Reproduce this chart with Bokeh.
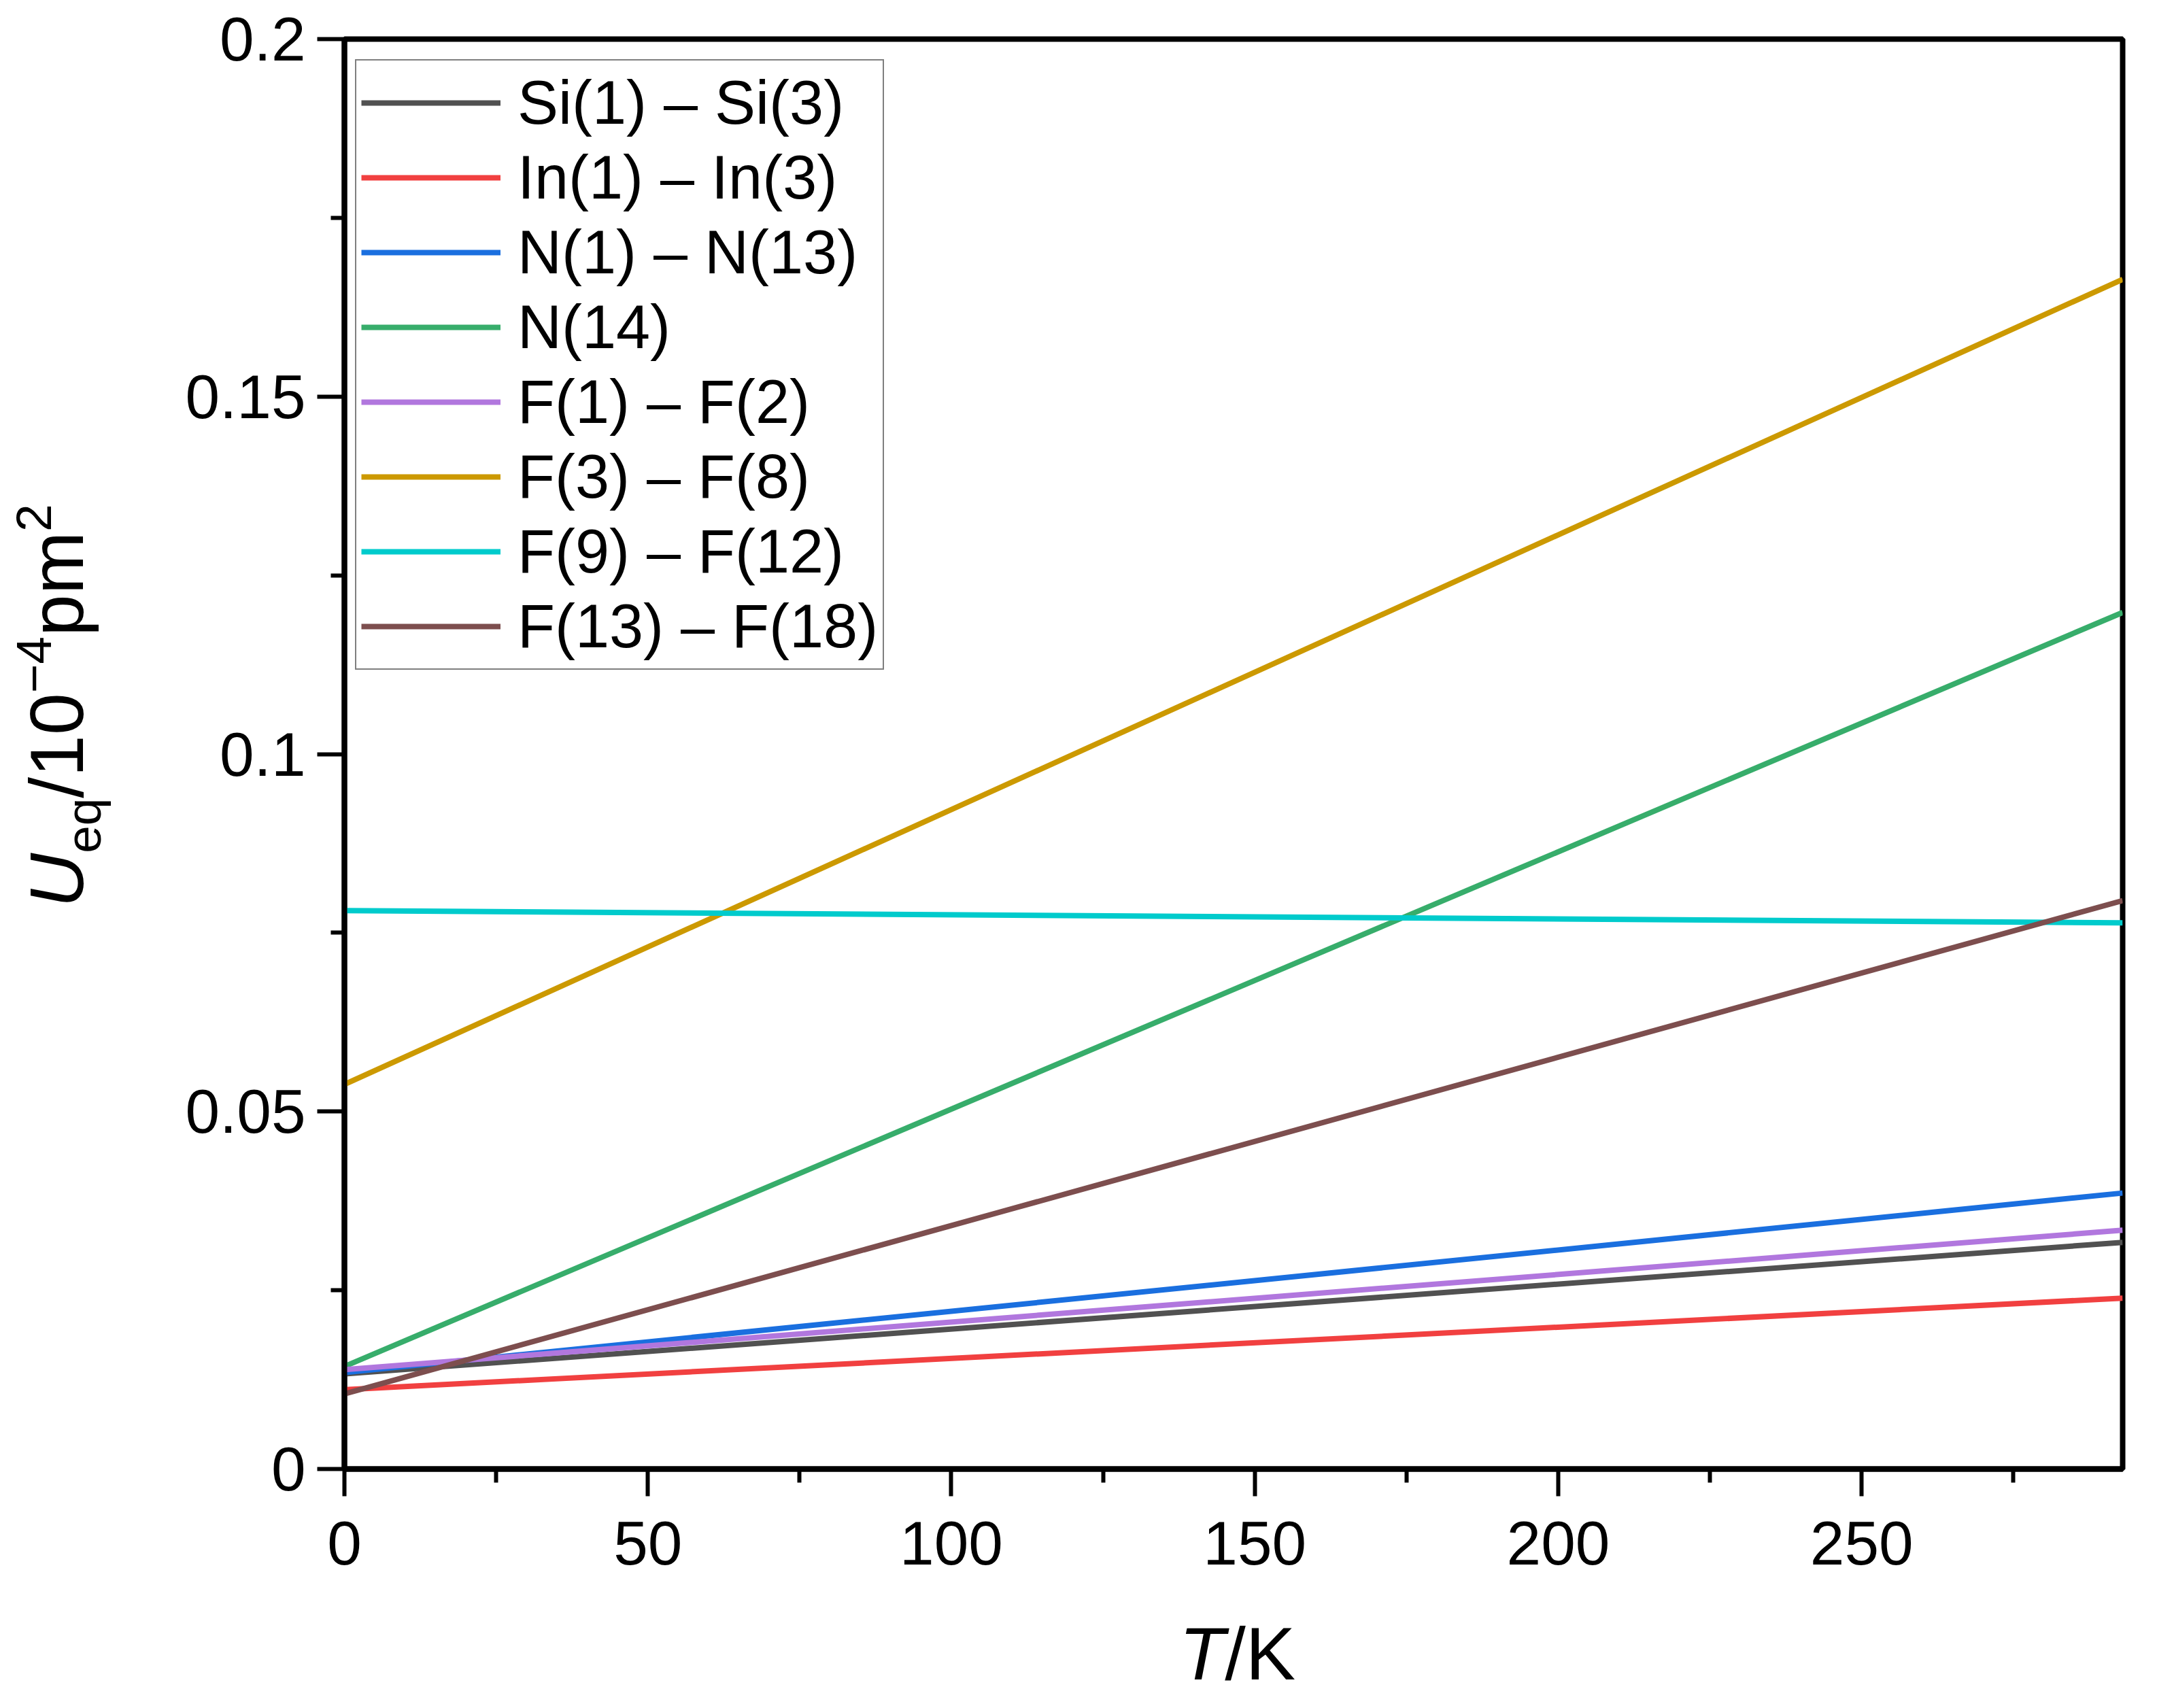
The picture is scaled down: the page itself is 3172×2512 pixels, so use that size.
from bokeh.plotting import figure
from bokeh.models import Range1d, FixedTicker, NumeralTickFormatter, Legend, LegendItem, Div
from bokeh.layouts import row, column
from bokeh.embed import file_html
from bokeh.resources import INLINE

# ---- data ----
T = [0, 293]
series_names = ["Si(1) – Si(3)", "In(1) – In(3)", "N(1) – N(13)", "N(14)",
                "F(1) – F(2)", "F(3) – F(8)", "F(9) – F(12)", "F(13) – F(18)"]
si = [0.0133, 0.0317]
in_ = [0.0111, 0.0239]
n1_13 = [0.0135, 0.0386]
n14 = [0.01435, 0.1198]
f1_2 = [0.0139, 0.0334]
f3_8 = [0.0538, 0.1664]
f9_12 = [0.0781, 0.0764]
f13_18 = [0.0105, 0.0795]
series_values = [si, in_, n1_13, n14, f1_2, f3_8, f9_12, f13_18]
colors = ["#515151", "#F14040", "#1A6FDF", "#37AD6B", "#B177DE", "#CC9900", "#00CBCC", "#7D4E4E"]

x_major = [0, 50, 100, 150, 200, 250]
x_minor = [25, 75, 125, 175, 225, 275]
y_major = [0, 0.05, 0.1, 0.15, 0.2]
y_minor = [0.025, 0.075, 0.125, 0.175]

FONT = "Liberation Sans"
LEFT_W = 200      # width of the y-title strip
BOTTOM_H = 150    # height of the x-title strip
TOTAL_W, TOTAL_H = 3156, 2496

p = figure(width=TOTAL_W - LEFT_W, height=TOTAL_H - BOTTOM_H,
           output_backend="svg", toolbar_location=None,
           x_range=Range1d(0, 293), y_range=Range1d(0, 0.2),
           min_border_left=506 - LEFT_W, min_border_right=35,
           min_border_top=57, min_border_bottom=336 - BOTTOM_H)
p.xgrid.visible = False
p.ygrid.visible = False
p.outline_line_color = "black"
p.outline_line_width = 8
p.background_fill_color = "white"
p.border_fill_color = "white"

items = []
for name, vals, c in zip(series_names, series_values, colors):
    r = p.line(T, vals, line_color=c, line_width=8)
    items.append(LegendItem(label=name, renderers=[r]))

for ax in (p.xaxis[0], p.yaxis[0]):
    ax.axis_line_width = 8
    ax.axis_line_color = "black"
    ax.major_tick_line_width = 6
    ax.minor_tick_line_width = 6
    ax.major_tick_in = 0
    ax.major_tick_out = 40
    ax.minor_tick_in = 0
    ax.minor_tick_out = 20
    ax.major_label_text_font = FONT
    ax.major_label_text_font_size = "91px"
    ax.major_label_text_color = "black"
    ax.axis_label = None

p.xaxis[0].ticker = FixedTicker(ticks=x_major, minor_ticks=x_minor)
p.yaxis[0].ticker = FixedTicker(ticks=y_major, minor_ticks=y_minor)
p.yaxis[0].formatter = NumeralTickFormatter(format="0.[00]")
p.xaxis[0].major_label_standoff = 37
p.yaxis[0].major_label_standoff = 17

legend = Legend(items=items, location=(16, 1175))
legend.label_text_font = FONT
legend.label_text_font_size = "90px"
legend.label_text_color = "black"
legend.label_height = 110
legend.glyph_height = 110
legend.glyph_width = 205
legend.label_standoff = 25
legend.spacing = 0
legend.padding = 7
legend.margin = 0
legend.border_line_color = "black"
legend.border_line_width = 2
legend.background_fill_color = "white"
legend.background_fill_alpha = 1.0
p.add_layout(legend, "center")

# ---- axis titles as HTML text ----
ytitle_html = (
    f'<div style="position:relative;width:{LEFT_W}px;height:{TOTAL_H}px;'
    f"font-family:'{FONT}';color:black;\">"
    '<span style="position:absolute;left:29px;top:1335px;transform-origin:0 0;'
    'transform:rotate(-90deg);white-space:nowrap;font-size:111px;line-height:110px;">'
    '<i>U</i><span style="position:relative;top:26px;font-size:73px;line-height:1;">eq</span>'
    '/10<span style="position:relative;top:-47px;font-size:73px;line-height:1;">\u22124</span>'
    'pm<span style="position:relative;top:-47px;font-size:73px;line-height:1;">2</span>'
    '</span></div>'
)
xtitle_html = (
    f'<div style="position:relative;width:{TOTAL_W - LEFT_W}px;height:{BOTTOM_H}px;'
    f"font-family:'{FONT}';color:black;\">"
    '<span style="position:absolute;left:1534px;top:31px;white-space:nowrap;'
    'font-size:110px;line-height:110px;"><i>T</i>/K</span></div>'
)
ydiv = Div(text=ytitle_html, width=LEFT_W, height=TOTAL_H, margin=0)
xdiv = Div(text=xtitle_html, width=TOTAL_W - LEFT_W, height=BOTTOM_H, margin=0)

layout = row(ydiv, column(p, xdiv, spacing=0), spacing=0)

open("out.html", "w").write(file_html(layout, INLINE))
